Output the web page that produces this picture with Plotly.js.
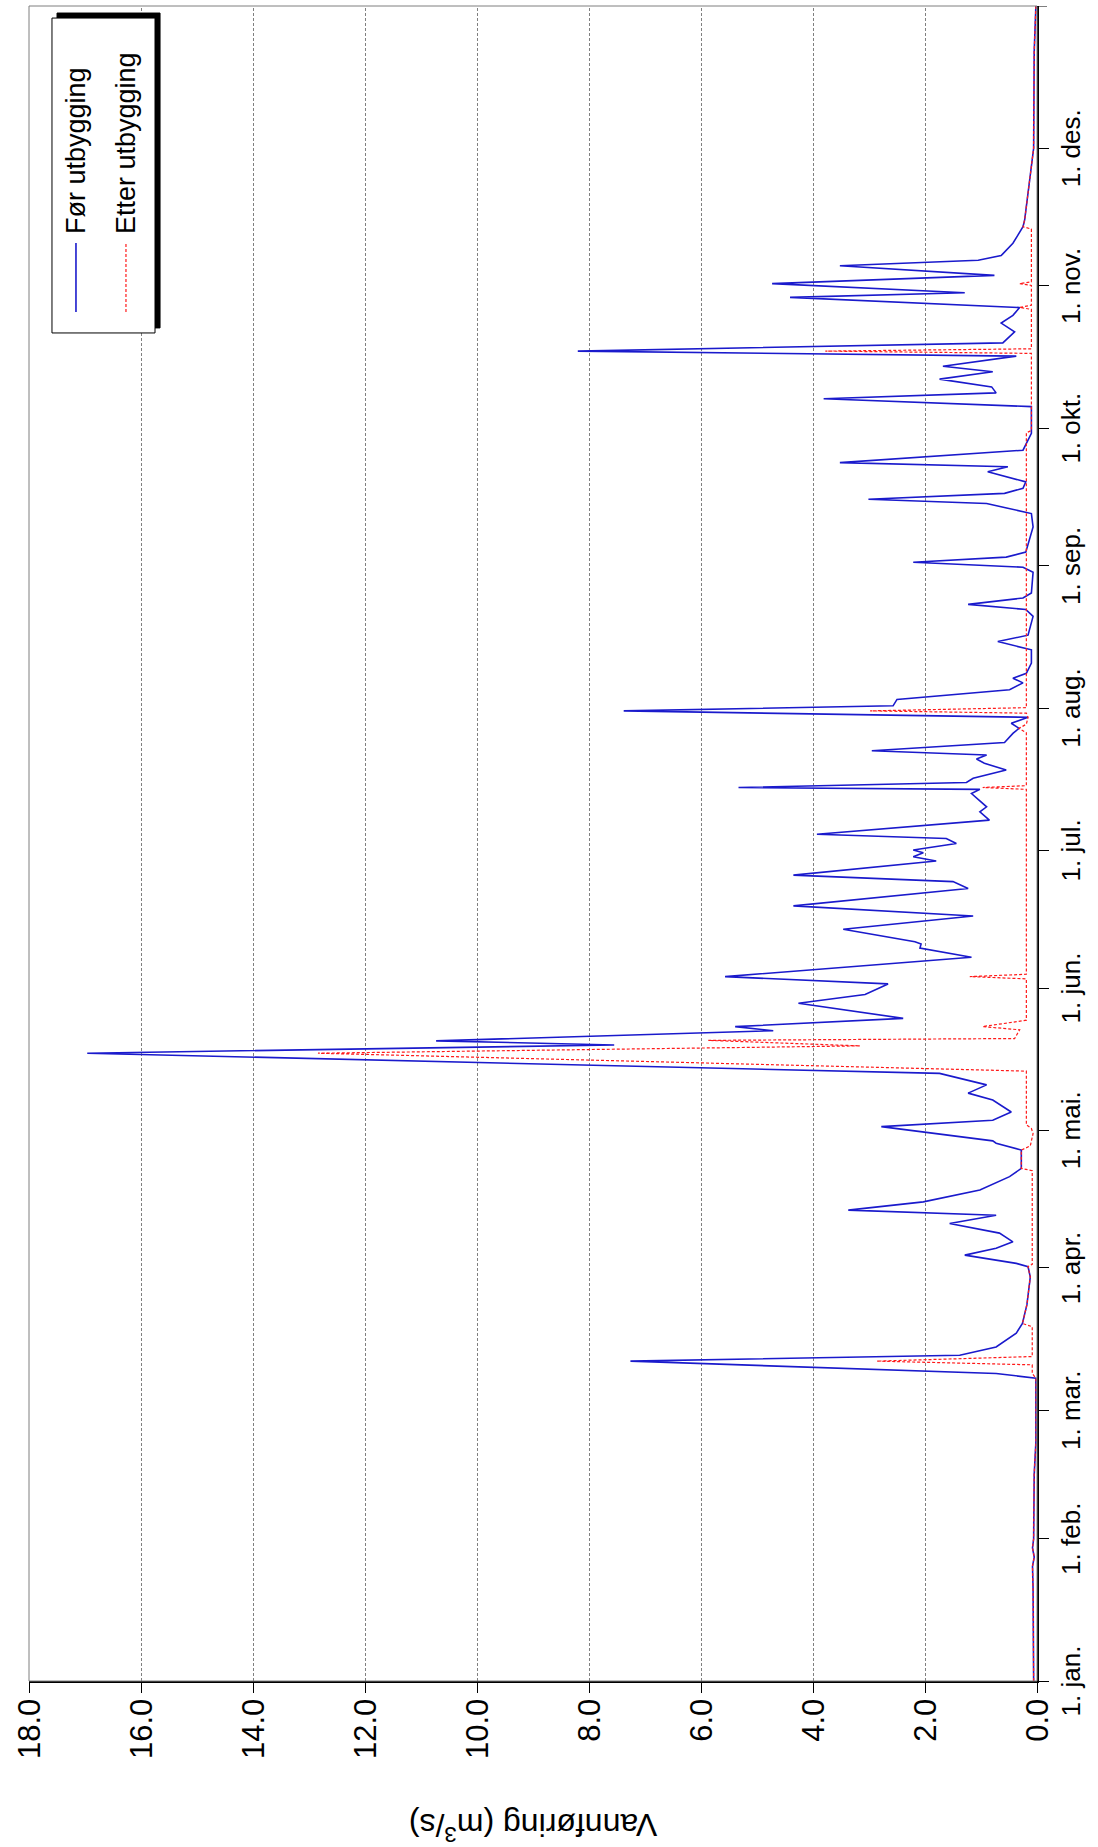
<!DOCTYPE html>
<html><head><meta charset="utf-8">
<script src="https://cdn.plot.ly/plotly-3.0.1.min.js"></script>
<style>
html,body{margin:0;padding:0;width:1098px;height:1847px;overflow:hidden;background:#fff;}
#wrap{position:absolute;left:0;top:0;width:1847px;height:1098px;transform-origin:0 0;transform:translateY(1847px) rotate(-90deg);}
</style></head><body>
<div id="wrap"><div id="chart" style="width:1847px;height:1098px;"></div></div>
<script>
// Month ticks (day of year) and labels
const monthDays = [0,31,59,90,120,151,181,212,243,273,304,334];
const monthLabels = ['1. jan.','1. feb.','1. mar.','1. apr.','1. mai.','1. jun.','1. jul.','1. aug.','1. sep.','1. okt.','1. nov.','1. des.'];
const yearEnd = 365;
const flowTicks = [0,2,4,6,8,10,12,14,16,18];
const seriesNames = ['Før utbygging','Etter utbygging'];

// Før utbygging (day of year, m3/s)
const dayBefore = [0,10,20,25,27,29,31,45,49,52,66,
 67,69.7,71.0,72.8,75.8,77.9,82,88,90.3,91.0,92.8,94.3,95.7,97.6,99.7,101.5,102.6,104.4,107.0,109.9,111.7,
 115.7,117.2,117.7,120.8,122.2,124.0,126.6,128.1,129.9,132.4,136.8,138.6,139.5,141.7,142.6,144.4,
 147.7,149.6,151.9,153.5,157.7,159.7,160.6,161.1,163.8,166.7,168.9,172.7,174.2,175.6,178.7,179.6,180.5,181.1,
 182.5,183.6,184.5,187.6,189.4,190.5,193.4,194.3,194.7,195.8,196.7,198.5,200.0,200.9,201.8,202.7,204.5,206.5,
 207.6,208.7,210.0,211.4,212.5,213.9,216.0,217.5,218.5,219.6,221.8,224.7,226.5,227.9,232.0,233.5,234.6,236.0,
 237.1,241.6,242.7,243.8,244.9,246.0,251.5,254.4,256.6,257.5,258.8,259.9,261.3,263.5,264.6,265.5,268.2,271.9,
 277.7,279.4,280.7,282.0,283.7,285.3,286.5,288.7,289.8,291.6,294.0,295.9,297.6,299.3,301.5,302.5,304.5,306.3,
 308.4,309.6,310.6,313.3,316.9,318.4,334,355,365];
const flowBefore = [0.06,0.06,0.07,0.08,0.05,0.08,0.06,0.05,0.04,0.02,0.02,
 0.73,7.26,1.38,0.73,0.37,0.26,0.18,0.12,0.16,0.37,1.29,0.73,0.43,0.67,1.56,0.73,3.37,2.03,1.02,0.49,0.28,
 0.28,0.73,0.79,2.78,0.79,0.46,0.79,1.23,0.90,1.74,16.96,7.55,10.73,4.71,5.39,2.39,
 4.26,3.07,2.66,5.57,1.17,2.09,2.07,2.18,3.46,1.14,4.35,1.23,1.50,4.35,1.80,2.21,2.03,2.21,
 1.44,1.62,3.93,0.85,1.02,0.90,1.17,1.02,5.33,1.26,1.14,0.55,0.94,1.08,0.90,2.95,0.58,0.43,
 0.32,0.46,0.16,7.38,2.57,2.50,0.49,0.25,0.43,0.19,0.10,0.10,0.70,0.16,0.07,0.20,1.23,0.25,
 0.10,0.07,0.25,2.21,0.55,0.20,0.07,0.10,0.90,3.01,0.58,0.25,0.20,0.88,0.52,3.52,0.25,0.10,
 0.10,3.81,0.73,0.81,1.74,0.79,1.68,0.37,8.20,0.61,0.40,0.64,0.43,0.31,4.41,1.29,4.73,0.76,
 3.52,1.05,0.64,0.43,0.25,0.22,0.06,0.05,0.02];

// Etter utbygging (day of year, m3/s)
const dayAfter = [0,10,20,25,27,29,31,45,49,52,66,
 67,68.9,69.7,70.7,77.2,77.9,82,88,90.3,90.8,111.2,111.7,115.7,116.6,119.3,120.4,121.2,
 132.9,136.8,138.4,139.6,140.0,141.9,142.6,144.0,153.0,153.5,154.0,194.3,194.7,195.1,206.6,207.6,208.5,
 210.0,210.9,211.4,212.1,272.0,272.5,289.3,289.8,290.3,298.9,299.3,299.8,304.1,304.5,304.9,316.4,316.9,
 318.4,334,355,365];
const flowAfter = [0.06,0.06,0.07,0.08,0.05,0.08,0.06,0.05,0.04,0.02,0.02,
 0.085,0.085,2.86,0.085,0.085,0.26,0.18,0.12,0.16,0.085,0.085,0.28,0.28,0.12,0.07,0.10,0.19,
 0.19,12.84,3.16,5.87,0.40,0.31,0.97,0.19,0.19,1.20,0.19,0.19,0.97,0.19,0.19,0.32,0.19,
 0.16,0.19,2.98,0.19,0.19,0.10,0.10,3.78,0.10,0.10,0.31,0.10,0.10,0.31,0.10,0.10,0.25,
 0.22,0.06,0.05,0.02];

const FONT = 'Liberation Sans, Arial, Helvetica, sans-serif';

const traces = [
 {x: dayBefore, y: flowBefore, type:'scatter', mode:'lines', name: seriesNames[0],
  line:{color:'#1a1acc', width:1.6}, showlegend:false, hoverinfo:'skip'},
 {x: dayAfter, y: flowAfter, type:'scatter', mode:'lines', name: seriesNames[1],
  line:{color:'#ff1a1a', width:1.2, dash:'3px,2px'}, showlegend:false, hoverinfo:'skip'}
];

// legend geometry (paper coords)
const lg = {x0:0.8048, x1:0.9928, y0:0.875, y1:0.9772};
const sh = {dx:0.0030, dy:-0.0050};
const rows = [0.9534, 0.9038];
const lineX = [0.8173, 0.8585];
const textX = 0.8627;

const shapes = [
 {type:'rect', xref:'paper', yref:'paper', x0:0, x1:1, y0:0, y1:1, line:{color:'#7f7f7f', width:1}},
 {type:'line', xref:'x', x0:yearEnd, x1:yearEnd, yref:'paper', ysizemode:'pixel', yanchor:0, y0:0, y1:-10,
  line:{color:'#000', width:1}},
 {type:'rect', xref:'paper', yref:'paper', x0:lg.x0+sh.dx, x1:lg.x1+sh.dx, y0:lg.y0+sh.dy, y1:lg.y1+sh.dy,
  fillcolor:'#000', line:{color:'#000', width:1}},
 {type:'rect', xref:'paper', yref:'paper', x0:lg.x0, x1:lg.x1, y0:lg.y0, y1:lg.y1,
  fillcolor:'#fff', line:{color:'#000', width:1}},
 {type:'line', xref:'paper', yref:'paper', x0:lineX[0], x1:lineX[1], y0:rows[0], y1:rows[0],
  line:{color:'#1a1acc', width:1.6}},
 {type:'line', xref:'paper', yref:'paper', x0:lineX[0], x1:lineX[1], y0:rows[1], y1:rows[1],
  line:{color:'#ff1a1a', width:1.2, dash:'3px,2px'}}
];

const annotations = seriesNames.map((n,i)=>({
 xref:'paper', yref:'paper', x:textX, y:rows[i], xanchor:'left', yanchor:'middle',
 text:n, showarrow:false, font:{family:FONT, size:27, color:'#000'}
}));

const layout = {
 width:1847, height:1098,
 margin:{l:166, r:6, t:29, b:61, pad:0},
 paper_bgcolor:'#fff', plot_bgcolor:'#fff',
 font:{family:FONT, color:'#000'},
 showlegend:false,
 xaxis:{type:'linear', range:[0,365], tickmode:'array', tickvals:monthDays, ticktext:monthLabels,
  ticks:'outside', ticklen:10, tickwidth:1, tickcolor:'#000', showline:true, linecolor:'#000', linewidth:1.5,
  showgrid:false, zeroline:false, tickfont:{family:FONT, size:26, color:'#000'}, fixedrange:true},
 yaxis:{range:[0,18], tickmode:'array', tickvals:flowTicks, tickformat:'.1f',
  ticks:'outside', ticklen:10, tickwidth:1, tickcolor:'#000', showline:true, linecolor:'#000', linewidth:1.5,
  showgrid:true, gridcolor:'#808080', gridwidth:1, griddash:'3px,2px', zeroline:false,
  tickfont:{family:FONT, size:31, color:'#000'},
  title:{text:'Vannføring (m<sup>3</sup>/s)', font:{family:FONT, size:32, color:'#000'}, standoff:56},
  fixedrange:true},
 shapes: shapes,
 annotations: annotations
};

Plotly.newPlot('chart', traces, layout, {displayModeBar:false, staticPlot:true});
</script>
</body></html>
